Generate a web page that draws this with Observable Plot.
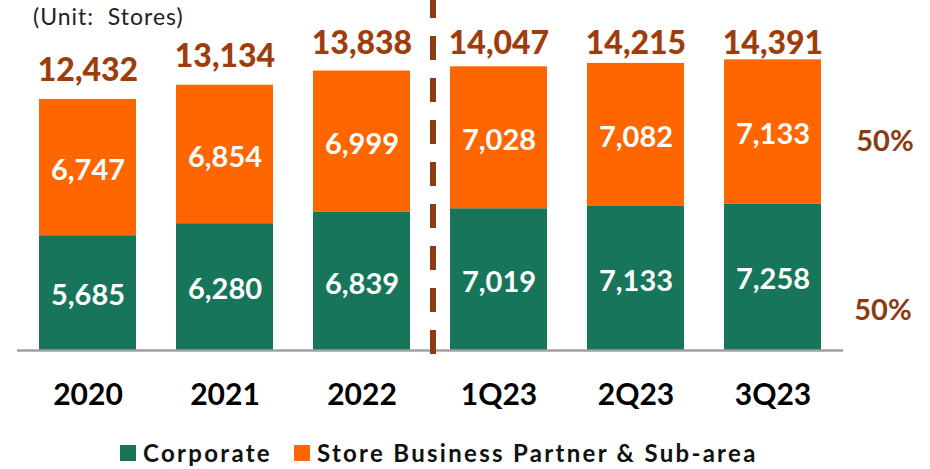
<!DOCTYPE html>
<html>
<head>
<meta charset="utf-8">
<script src="https://cdn.jsdelivr.net/npm/d3@7"></script>
<script src="https://cdn.jsdelivr.net/npm/@observablehq/plot@0.6"></script>
<style>
  html, body { margin: 0; padding: 0; background: #fff; }
  #chart { width: 930px; height: 430px; }
  .legend { display: flex; align-items: center; height: 39px; padding-left: 120px; box-sizing: border-box; padding-top: 6px;
    font-family: Lato, sans-serif; font-weight: bold; font-size: 24px; letter-spacing: 2.3px; color: #111; }
  .legend .sw { display: inline-block; width: 16px; height: 16px; margin-right: 7px; }
  .legend .item { display: flex; align-items: center; margin-right: 22px; }
</style>
</head>
<body>
<div id="chart"></div>
<div class="legend" id="legend"></div>
<script>
const categories = ["2020", "2021", "2022", "1Q23", "2Q23", "3Q23"];
const corporate = [5685, 6280, 6839, 7019, 7133, 7258];
const partner = [6747, 6854, 6999, 7028, 7082, 7133];
const totals = [12432, 13134, 13838, 14047, 14215, 14391];
const seriesNames = ["Corporate", "Store Business Partner & Sub-area"];
const seriesColors = ["#17765a", "#ff6600"];
const unitLabel = "(Unit:\u00a0 Stores)";
// total labels never rise above this level (as in the reference layout)
const totalLabelCap = 13800;

const rows = [];
categories.forEach((c, i) => {
  rows.push({cat: c, series: seriesNames[0], value: corporate[i]});
  rows.push({cat: c, series: seriesNames[1], value: partner[i]});
});
const fmt = d3.format(",");
const last = categories.length - 1;
const shareTop = [{cat: categories[last], y: corporate[last] + partner[last] / 2, text: Math.round(partner[last] / totals[last] * 100) + "%"}];
const shareBottom = [{cat: categories[last], y: corporate[last] / 2, text: Math.round(corporate[last] / totals[last] * 100) + "%"}];

const yMax = 17330;
const plot = Plot.plot({
  width: 930,
  height: 430,
  marginLeft: 17,
  marginRight: 87,
  marginTop: 0,
  marginBottom: 80,
  style: {fontFamily: "Lato", fontSize: "30px", fontWeight: "bold", color: "#000"},
  x: {domain: categories, paddingInner: 0.29, paddingOuter: 0.138, axis: null},
  y: {domain: [0, yMax], axis: null},
  color: {domain: seriesNames, range: seriesColors},
  marks: [
    Plot.barY(rows, {x: "cat", y: "value", fill: "series"}),
    Plot.ruleY([0], {stroke: "#a0a0a0", strokeWidth: 2.5}),
    Plot.ruleX([categories[3]], {x: d => d, dx: -66, y1: -200, y2: yMax, stroke: "#8a3b12", strokeWidth: 6, strokeDasharray: "24,18"}),
    Plot.axisX({tickSize: 0, tickPadding: 33, fontSize: 30, fontWeight: "bold", fill: "#000", label: null}),
    Plot.text(rows, Plot.stackY({x: "cat", y: "value", text: d => fmt(d.value), fill: "white", fontSize: 29, fontWeight: "bold", dy: 3})),
    Plot.text(categories, {x: d => d, y: (d, i) => Math.min(totals[i], totalLabelCap), text: (d, i) => fmt(totals[i]), lineAnchor: "bottom", dy: -18, fill: "#9e3d0c", fontSize: 32, fontWeight: 900}),
    Plot.text(shareTop, {x: "cat", y: "y", text: "text", dx: 112, dy: 10, fill: "#8c3c12", fontSize: 29, fontWeight: "bold"}),
    Plot.text(shareBottom, {x: "cat", y: "y", text: "text", dx: 110, dy: 34, fill: "#8c3c12", fontSize: 29, fontWeight: "bold"}),
    Plot.text([unitLabel], {x: () => categories[0], y: () => yMax, text: d => d, dx: -55, dy: 8, textAnchor: "start", lineAnchor: "top", fontSize: 23, fontWeight: "normal", fill: "#222"})
  ]
});
document.getElementById("chart").appendChild(plot);
// widen the unit label's letter spacing to match the reference's wider typeface
plot.querySelectorAll("g[aria-label=text] text").forEach(t => {
  if (t.textContent === unitLabel) t.style.letterSpacing = "1px";
});

const legend = document.getElementById("legend");
seriesNames.forEach((name, i) => {
  const item = document.createElement("span");
  item.className = "item";
  const sw = document.createElement("span");
  sw.className = "sw";
  sw.style.background = seriesColors[i];
  item.appendChild(sw);
  item.appendChild(document.createTextNode(name));
  legend.appendChild(item);
});
</script>
</body>
</html>
